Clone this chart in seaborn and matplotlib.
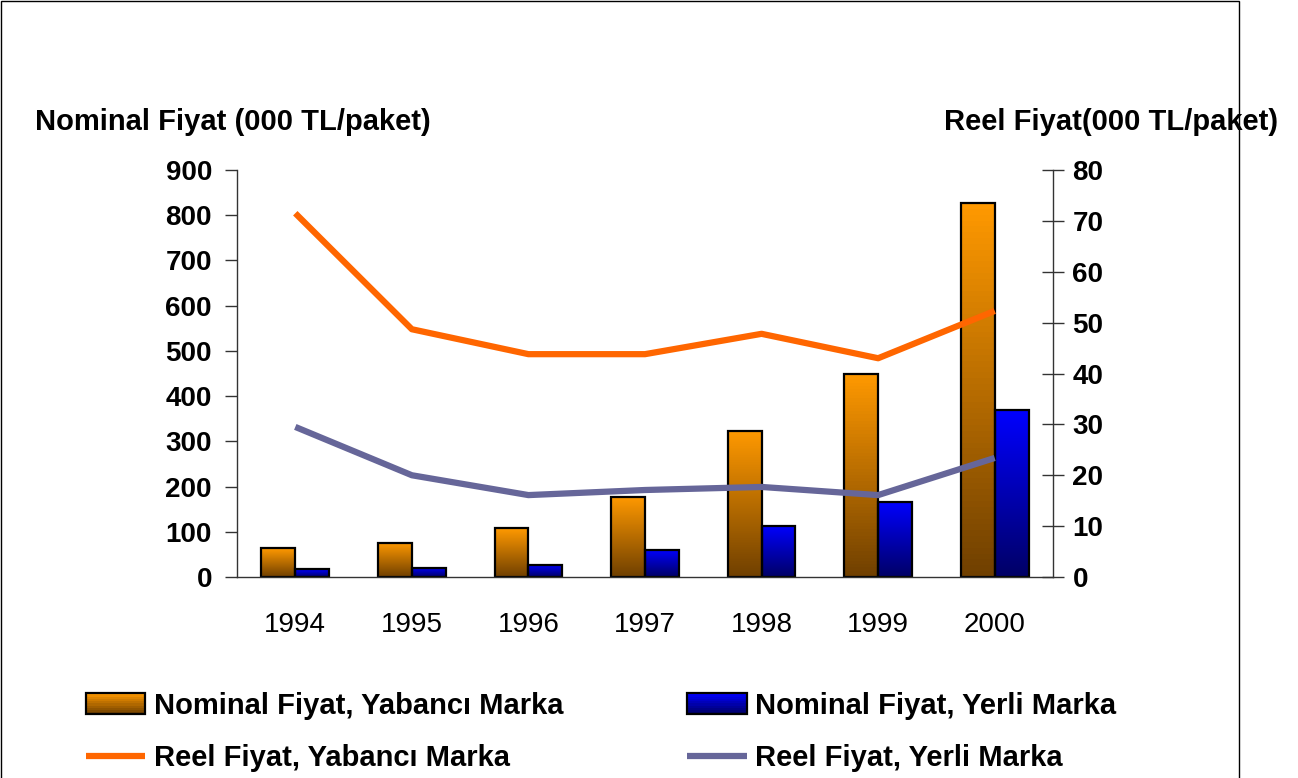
import numpy as np
import pandas as pd
import seaborn as sns
import matplotlib.pyplot as plt
from matplotlib.patches import Rectangle
from matplotlib.legend_handler import HandlerBase
from matplotlib.lines import Line2D
from matplotlib.colors import to_rgb

years = ["1994", "1995", "1996", "1997", "1998", "1999", "2000"]
nominal_yabanci = [64, 76, 108, 177, 323, 450, 827]
nominal_yerli = [17, 21, 27, 60, 113, 166, 370]
reel_yabanci = [71.5, 48.7, 43.8, 43.8, 47.8, 43.0, 52.3]
reel_yerli = [29.5, 20.0, 16.1, 17.1, 17.7, 16.1, 23.4]

lbl_nom_yab = "Nominal Fiyat, Yabancı Marka"
lbl_nom_yer = "Nominal Fiyat, Yerli Marka"
lbl_reel_yab = "Reel Fiyat, Yabancı Marka"
lbl_reel_yer = "Reel Fiyat, Yerli Marka"

orange_top, orange_bot = "#FF9900", "#704000"
blue_top, blue_bot = "#0000FF", "#000066"

sns.set_style("white")
plt.rcParams["font.family"] = ["Liberation Sans", "DejaVu Sans"]
plt.rcParams["text.color"] = "black"
plt.rcParams["xtick.color"] = "black"
plt.rcParams["ytick.color"] = "black"

df_bars = pd.DataFrame({
    "year": years * 2,
    "value": nominal_yabanci + nominal_yerli,
    "series": [lbl_nom_yab] * len(years) + [lbl_nom_yer] * len(years),
})
df_lines = pd.DataFrame({"pos": np.arange(len(years)),
                         "yab": reel_yabanci, "yer": reel_yerli})

fig = plt.figure(figsize=(12.98, 7.78), dpi=100)
ax = fig.add_axes([237 / 1298, 1 - 577 / 778, 816 / 1298, 407 / 778])

sns.barplot(data=df_bars, x="year", y="value", hue="series", order=years,
            hue_order=[lbl_nom_yab, lbl_nom_yer], saturation=1,
            palette=[orange_top, blue_top], width=0.58, gap=0,
            edgecolor="black", linewidth=1.6, legend=False, ax=ax)


def gradient(c_top, c_bot, n=64):
    t = np.linspace(0, 1, n)[:, None]
    a, b = np.array(to_rgb(c_top)), np.array(to_rgb(c_bot))
    return (a * (1 - t) + b * t)[:, None, :]


# paint each bar with a vertical gradient (container 0 = Yabancı, 1 = Yerli)
for cont, (ct, cb) in zip(ax.containers, [(orange_top, orange_bot), (blue_top, blue_bot)]):
    img = gradient(ct, cb)
    for p in cont.patches:
        x0, y0, w, h = p.get_x(), p.get_y(), p.get_width(), p.get_height()
        im = ax.imshow(img, extent=[x0, x0 + w, y0, y0 + h], aspect="auto",
                       origin="upper", zorder=p.get_zorder())
        im.set_clip_path(p)
        p.set_facecolor("none")
        p.set_zorder(p.get_zorder() + 0.1)

ax.set_xlim(-0.5, len(years) - 0.5)
ax.set_ylim(0, 900)
ax.set_yticks(range(0, 901, 100))
ax.set_xlabel("")
ax.set_ylabel("")
ax.set_xticks(np.arange(len(years) + 1) - 0.5)
ax.set_xticklabels([])
ax.set_xticks(np.arange(len(years)), minor=True)
ax.set_xticklabels(years, minor=True, fontsize=20)
ax.tick_params(axis="x", which="major", direction="out", length=14, width=1, color="#333333")
ax.tick_params(axis="x", which="minor", length=0, pad=25)
ax.tick_params(axis="y", direction="out", length=9, width=1, color="#333333", pad=9)
for t in ax.get_yticklabels():
    t.set_fontweight("bold")
    t.set_fontsize(20)
for s in ["top", "right"]:
    ax.spines[s].set_visible(False)
for s in ["left", "bottom"]:
    ax.spines[s].set_color("#333333")
    ax.spines[s].set_linewidth(1)

ax2 = ax.twinx()
sns.lineplot(data=df_lines, x="pos", y="yab", color="#FF6600", linewidth=4.5,
             solid_capstyle="butt", ax=ax2)
sns.lineplot(data=df_lines, x="pos", y="yer", color="#666699", linewidth=4.5,
             solid_capstyle="butt", ax=ax2)
ax2.set_ylim(0, 80)
ax2.set_yticks(range(0, 81, 10))
ax2.set_xlim(-0.5, len(years) - 0.5)
ax2.set_ylabel("")
ax2.set_xlabel("")
ax2.tick_params(axis="y", direction="inout", length=16, width=1, color="#333333", pad=6)
for t in ax2.get_yticklabels():
    t.set_fontweight("bold")
    t.set_fontsize(20)
for s in ["top", "left", "bottom"]:
    ax2.spines[s].set_visible(False)
ax2.spines["right"].set_color("#333333")
ax2.spines["right"].set_linewidth(1)

fig.text(35 / 1298, 1 - 122 / 778, "Nominal Fiyat (000 TL/paket)", fontsize=21,
         fontweight="bold", ha="left", va="center")
fig.text(1278 / 1298, 1 - 122 / 778, "Reel Fiyat(000 TL/paket)", fontsize=21,
         fontweight="bold", ha="right", va="center")

# outer frame of the chart area
fig.patches.append(Rectangle((0.001, -0.01), 1238 / 1298, 1.0085, transform=fig.transFigure,
                             fill=False, edgecolor="black", linewidth=1))


class GradHandler(HandlerBase):
    def __init__(self, c_top, c_bot):
        super().__init__()
        self.c_top, self.c_bot = c_top, c_bot

    def create_artists(self, legend, orig_handle, xdescent, ydescent, width, height, fontsize, trans):
        n = 10
        a, b = np.array(to_rgb(self.c_top)), np.array(to_rgb(self.c_bot))
        arts = []
        for i in range(n):
            c = a * (1 - i / (n - 1)) + b * (i / (n - 1))
            arts.append(Rectangle((-xdescent, -ydescent + height * (n - 1 - i) / n), width, height / n,
                                  facecolor=c, edgecolor="none", transform=trans))
        arts.append(Rectangle((-xdescent, -ydescent), width, height, facecolor="none",
                              edgecolor="black", linewidth=1.6, transform=trans))
        return arts


h_yab = Rectangle((0, 0), 1, 1)
h_yer = Rectangle((0, 0), 1, 1)
h_l1 = Line2D([], [], color="#FF6600", linewidth=4.5, solid_capstyle="butt")
h_l2 = Line2D([], [], color="#666699", linewidth=4.5, solid_capstyle="butt")
fig.legend([h_yab, h_l1, h_yer, h_l2],
           [lbl_nom_yab, lbl_reel_yab, lbl_nom_yer, lbl_reel_yer],
           handler_map={h_yab: GradHandler(orange_top, orange_bot),
                        h_yer: GradHandler(blue_top, blue_bot)},
           ncol=2, loc="upper left", bbox_to_anchor=(74 / 1298, 1 - 680 / 778),
           frameon=False, prop={"weight": "bold", "size": 21},
           handlelength=2.05, handleheight=0.75, handletextpad=0.28,
           columnspacing=4.25, labelspacing=0.85, borderaxespad=0)

fig.savefig("out.png", dpi=100)
